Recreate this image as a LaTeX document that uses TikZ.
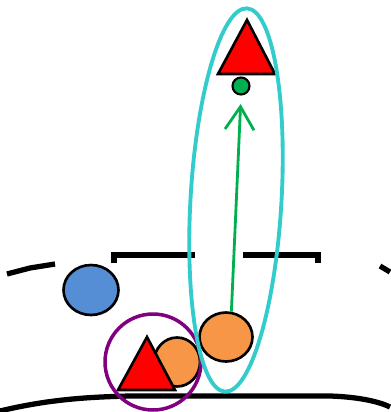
\documentclass[tikz,border=0pt]{standalone}
\usepackage{tikz}
\usetikzlibrary{shapes.geometric,arrows.meta,positioning}
\definecolor{vermelho}{RGB}{255,0,0}
\definecolor{laranja}{RGB}{247,150,70}
\definecolor{azulbola}{RGB}{85,142,213}
\definecolor{verdeseta}{RGB}{0,176,80}
\definecolor{cianoref}{RGB}{51,204,204}
\definecolor{roxoref}{RGB}{128,0,128}

\begin{document}
\begin{tikzpicture}[
	x=0.02cm, y=-0.02cm,
	>={Straight Barb[length=4.6mm,width=5.8mm]},
	bola/.style={ellipse, draw=black, line width=1.5pt, inner sep=0pt},
	tri/.style={draw=black, line width=1.5pt, fill=vermelho, line join=miter},
	borda/.style={black, line width=3pt},
	seta/.style={->, line width=1.6pt, verdeseta},
]
\useasboundingbox (0,0) rectangle (390,412);

% bordas da mesa
\draw[borda] (7,274) -- (30,268) -- (55,264);
\draw[borda] (114,263) -- (114,255) -- (195,255);
\draw[borda] (243,255) -- (318,255) -- (318,263);
\draw[borda] (380,266) -- (390,272);
\draw[borda] (0,411) .. controls (50,399) and (90,397) .. (130,396) -- (330,396) .. controls (360,397) and (380,402) .. (390,407);

\node[bola, fill=azulbola, minimum width=1.1cm, minimum height=1cm] (azul) at (91,290) {};
\node[bola, fill=laranja, minimum width=0.92cm, minimum height=0.98cm] (laranjaE) at (177,362) {};
\filldraw[tri] (147,337) -- (118,390) -- (175,390) -- cycle;
\node[bola, fill=laranja, minimum width=1.06cm, minimum height=0.98cm] (laranjaD) at (226,337) {};

\filldraw[tri] (247,20) -- (218,74) -- (275,74) -- cycle;
\node[bola, fill=verdeseta, line width=1.2pt, minimum size=0.34cm] (ponto) at (241,86) {};

\draw[seta, shorten >=0.17cm] (laranjaD.78) -- (ponto.south);

% destaques
\node[draw=roxoref, line width=2pt, circle, minimum size=1.92cm, inner sep=0pt] (foco) at (153,362) {};
\node[draw=cianoref, line width=2.2pt, ellipse, minimum width=1.82cm, minimum height=7.68cm, rotate=-3.3, inner sep=0pt] (grupo) at (236,200) {};
\end{tikzpicture}
\end{document}
